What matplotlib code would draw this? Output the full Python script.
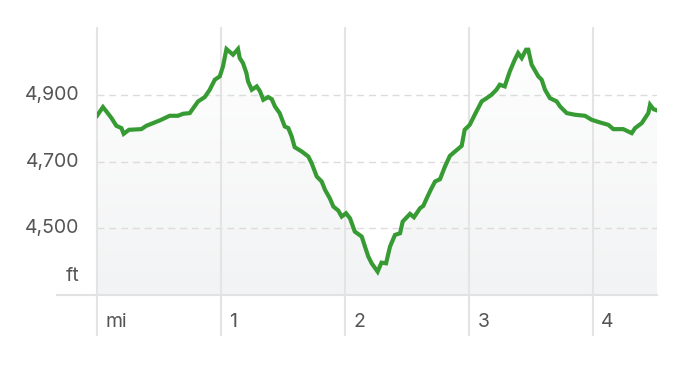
import numpy as np
import matplotlib
matplotlib.use("Agg")
import matplotlib.pyplot as plt
from matplotlib.colors import LinearSegmentedColormap
from matplotlib.patches import Polygon

# elevation profile (miles, feet)
dist_mi = [0.000, 0.048, 0.076, 0.117, 0.156, 0.197, 0.215, 0.258, 0.358, 0.398,
           0.452, 0.506, 0.586, 0.653, 0.694, 0.748, 0.815, 0.869, 0.909, 0.950,
           0.990, 1.016, 1.044, 1.097, 1.137, 1.151, 1.177, 1.205, 1.218, 1.248,
           1.288, 1.315, 1.341, 1.381, 1.409, 1.435, 1.473, 1.514, 1.543, 1.570,
           1.594, 1.651, 1.704, 1.731, 1.772, 1.812, 1.839, 1.877, 1.906, 1.946,
           1.973, 2.008, 2.040, 2.079, 2.135, 2.161, 2.188, 2.215, 2.263, 2.294,
           2.331, 2.363, 2.403, 2.444, 2.465, 2.524, 2.556, 2.605, 2.631, 2.663,
           2.691, 2.726, 2.766, 2.806, 2.846, 2.887, 2.941, 2.965, 3.006, 3.046,
           3.102, 3.143, 3.181, 3.221, 3.248, 3.288, 3.329, 3.369, 3.396, 3.425,
           3.460, 3.478, 3.505, 3.559, 3.586, 3.613, 3.652, 3.707, 3.734, 3.788,
           3.855, 3.935, 3.989, 4.056, 4.123, 4.164, 4.244, 4.312, 4.339, 4.393,
           4.446, 4.460, 4.487, 4.516]
elev_ft = [4837, 4863, 4850, 4830, 4807, 4800, 4783, 4795, 4797, 4807,
           4815, 4823, 4837, 4837, 4843, 4845, 4880, 4893, 4915, 4945,
           4955, 4985, 5037, 5020, 5037, 5010, 4995, 4965, 4940, 4915,
           4925, 4910, 4885, 4893, 4887, 4865, 4845, 4805, 4800, 4775,
           4743, 4730, 4715, 4695, 4655, 4640, 4615, 4590, 4565, 4553,
           4535, 4545, 4530, 4490, 4475, 4445, 4415, 4395, 4370, 4397,
           4395, 4445, 4480, 4485, 4520, 4543, 4533, 4560, 4567, 4593,
           4615, 4640, 4647, 4685, 4717, 4730, 4747, 4795, 4810, 4840,
           4880, 4890, 4900, 4915, 4930, 4925, 4970, 5005, 5025, 5010,
           5035, 5035, 4990, 4955, 4945, 4915, 4890, 4880, 4865, 4845,
           4840, 4837, 4825, 4817, 4810, 4797, 4797, 4785, 4800, 4815,
           4845, 4870, 4857, 4853]

y_ticks = [4500, 4700, 4900]
y_labels = ["4,500", "4,700", "4,900"]
x_ticks = [0, 1, 2, 3, 4]
x_labels = ["mi", "1", "2", "3", "4"]

x_max = 4.516
y_min, y_max = 4300, 5100
text_col = "#555555"
font = "Inter"

fig = plt.figure(figsize=(6.88, 3.66), dpi=100)
ax = fig.add_axes([97 / 688, 71 / 366, 560 / 688, 267 / 366])
ax.set_xlim(0, x_max)
ax.set_ylim(y_min, y_max)
ax.axis("off")

# gradient fill under the line
cmap = LinearSegmentedColormap.from_list("fade", ["#ffffff", "#f2f3f4"])
grad = np.linspace(0, 1, 256).reshape(-1, 1)
im = ax.imshow(grad, cmap=cmap, aspect="auto", origin="upper",
               extent=[0, x_max, y_min, y_max], zorder=1)
poly_pts = list(zip(dist_mi, elev_ft)) + [(x_max, y_min), (0, y_min)]
clip = Polygon(poly_pts, closed=True, transform=ax.transData, facecolor="none", edgecolor="none")
ax.add_patch(clip)
im.set_clip_path(clip)

# grid
for yv in y_ticks:
    ax.axhline(yv, color="#dcdcdc", lw=1, dashes=(5, 3.5), zorder=2)
ext = 40 / 267
for xv in x_ticks:
    ax.axvline(xv, ymin=-ext, ymax=1, color="#e4e4e4", lw=1.5, clip_on=False, zorder=2)
ax.axhline(y_min, xmin=-40 / 560, xmax=1, color="#e2e2e2", lw=1.5, clip_on=False, zorder=2)

ax.plot(dist_mi, elev_ft, color="#379b34", lw=3.0, solid_joinstyle="miter", zorder=3)

# labels
for yv, lab in zip(y_ticks, y_labels):
    ax.annotate(lab, xy=(0, yv), xycoords=("axes fraction", "data"),
                xytext=(-12.5, 0), textcoords="offset points",
                ha="right", va="center", fontsize=14, color=text_col, family=font)
ax.annotate("ft", xy=(0, 4357), xycoords=("axes fraction", "data"),
            xytext=(-12.5, 0), textcoords="offset points",
            ha="right", va="center", fontsize=14, color=text_col, family=font)
for xv, lab in zip(x_ticks, x_labels):
    ax.annotate(lab, xy=(xv, 0), xycoords=("data", "axes fraction"),
                xytext=(6, -19.5), textcoords="offset points",
                ha="left", va="center", fontsize=14, color=text_col, family=font)

fig.savefig("out.png", dpi=100)
